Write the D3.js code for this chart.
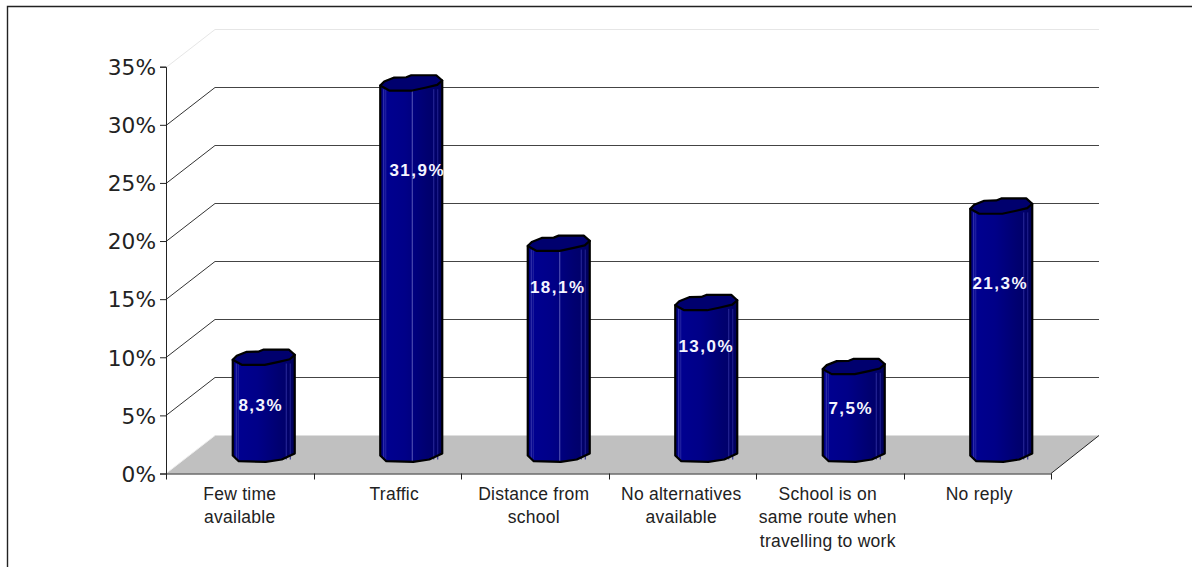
<!DOCTYPE html>
<html><head><meta charset="utf-8">
<script src="https://cdn.jsdelivr.net/npm/d3@7/dist/d3.min.js"></script>
<style>html,body{margin:0;padding:0;background:#fff;overflow:hidden}svg{display:block}</style>
</head><body>
<svg id="c" width="1192" height="567"></svg>
<script>
const categories = ["Few time available","Traffic","Distance from school","No alternatives available","School is on same route when travelling to work","No reply"];
const categoryLines = [["Few time","available"],["Traffic"],["Distance from","school"],["No alternatives","available"],["School is on","same route when","travelling to work"],["No reply"]];
const values = [8.3,31.9,18.1,13.0,7.5,21.3];
const valueLabels = ["8,3%","31,9%","18,1%","13,0%","7,5%","21,3%"];
const yTicks = [0,5,10,15,20,25,30,35];

// layout (not data)
const labelDrop = [47.5,86.5,43.5,43.5,41.5,76.5];
const labelShift = [-3,6,-1,0,-3,-1];
const categoryShift = [1,8,0,0,-1,3];
const depthX = 49, depthY = 38;
const svg = d3.select("#c");
const x = d3.scaleBand().domain(categories).range([166,1051]).padding(0);
const y = d3.scaleLinear().domain([0,35]).range([473.5,66.7]);
const line = d3.line();

// frame
svg.append("path").attr("d","M7.5,567V6.5H1192").attr("fill","none").attr("stroke","#222").attr("stroke-width",1.4);

// floor
const x0 = x.range()[0], x1 = x.range()[1], yz = y(0);
svg.append("path").attr("d",line([[x0,yz],[x0+depthX,yz-depthY],[x1+48,yz-depthY],[x1,yz]])+"Z").attr("fill","#c0c0c0");
svg.append("path").attr("d",line([[x0,yz],[x0+depthX,yz-depthY]])).attr("stroke","#eee").attr("fill","none");
svg.append("path").attr("d",line([[x1,yz],[x1+48,yz-depthY]])).attr("stroke","#222").attr("fill","none");

// walls
yTicks.filter(t=>t>0).forEach(t=>{
  const c = t===35 ? "#e6e6e6" : "#333";
  const yy = Math.round(y(t)) + 0.5;
  svg.append("path").attr("d",line([[x0,yy],[x0+depthX,yy-depthY]])).attr("stroke",c).attr("fill","none");
  svg.append("path").attr("d",line([[x0+depthX,yy-depthY],[x1+48,yy-depthY]])).attr("stroke",t===35?c:"#444").attr("fill","none");
});

// axes
const gy = svg.append("g").attr("transform",`translate(${x0},0)`)
  .call(d3.axisLeft(y).tickValues(yTicks).tickFormat(d=>d+"%").tickSize(6).tickPadding(4));
gy.selectAll("text").attr("font-family","'DejaVu Sans'").attr("font-size",21.7).attr("fill","#222").attr("dy","0.36em");
const gx = svg.append("g").attr("transform",`translate(0,${yz})`)
  .call(d3.axisBottom(x).tickValues([]).tickSize(0));
gy.selectAll("path,line").attr("stroke","#222");
gx.selectAll("path").attr("stroke","#222");
[...categories.map(c=>x(c)),x1].forEach(px=>{
  svg.append("line").attr("x1",Math.round(px)+.5).attr("x2",Math.round(px)+.5).attr("y1",yz).attr("y2",yz+6).attr("stroke","#222");
});
categories.forEach((c,i)=>{
  const t = svg.append("text").attr("text-anchor","middle").attr("font-family","'Liberation Sans'")
    .attr("font-size",17.5).attr("letter-spacing",0.25).attr("fill","#222");
  categoryLines[i].forEach((l,k)=>t.append("tspan").attr("x",x(c)+x.bandwidth()/2-1+categoryShift[i]).attr("y",500+k*23.4).text(l));
});

// gradient
const defs = svg.append("defs");
const g = defs.append("linearGradient").attr("id","body").attr("x1",0).attr("x2",1).attr("y1",0).attr("y2",0);
[[0,"#00007a"],[.08,"#000090"],[.4,"#000088"],[.75,"#000070"],[.88,"#00006a"],[1,"#000058"]].forEach(s=>g.append("stop").attr("offset",s[0]).attr("stop-color",s[1]));

// bars
const cap = [[-31,2.3],[-27,-1.7],[-17,-5.7],[-5,-6],[0,-8],[25,-8],[31,-2.7],[26,1.7],[15,4.3],[1,7.3],[-22,7.3]];
const base = [[31,-2],[18,4],[2,6.3],[-25,5.7],[-31,0]];
const facets = [[-28,"#3a3ab0"],[-26,"#2626a0"],[22,"#2a2a9a"],[26,"#222290"]];
values.forEach((v,i)=>{
  const cx = x(categories[i])+x.bandwidth()/2+24;
  const yb = y(0)-18, yt = y(v)-19.5;
  const g1 = svg.append("g");
  const pts = [[cx-31,yt+2.3],[cx+31,yt-2.7],...base.map(p=>[cx+p[0],yb+p[1]])];
  g1.append("path").attr("d",line(pts)+"Z").attr("fill","url(#body)").attr("stroke","none");
  facets.forEach(f=>g1.append("line").attr("x1",cx+f[0]+.5).attr("x2",cx+f[0]+.5).attr("y1",yt+6).attr("y2",yb+4).attr("stroke",f[1]));
  if(i===1||i===2) g1.append("line").attr("x1",cx+1).attr("x2",cx+1).attr("y1",yt+7).attr("y2",yb+6).attr("stroke","#5a5ab8");
  g1.append("path").attr("d",line(pts)+"Z").attr("fill","none").attr("stroke","#000").attr("stroke-width",2.2).attr("stroke-linejoin","round");
  g1.append("path").attr("d",line(cap.map(p=>[cx+p[0],yt+p[1]]))+"Z").attr("fill","#00006e").attr("stroke","#000").attr("stroke-width",2.2).attr("stroke-linejoin","round");
  svg.append("text").attr("x",cx+labelShift[i]).attr("y",yt+labelDrop[i]+6).attr("text-anchor","middle")
    .attr("font-family","'Liberation Sans'").attr("font-weight","bold").attr("font-size",17).attr("letter-spacing",1.5)
    .attr("fill","#f4f4ff").text(valueLabels[i]);
});
</script>
</body></html>
